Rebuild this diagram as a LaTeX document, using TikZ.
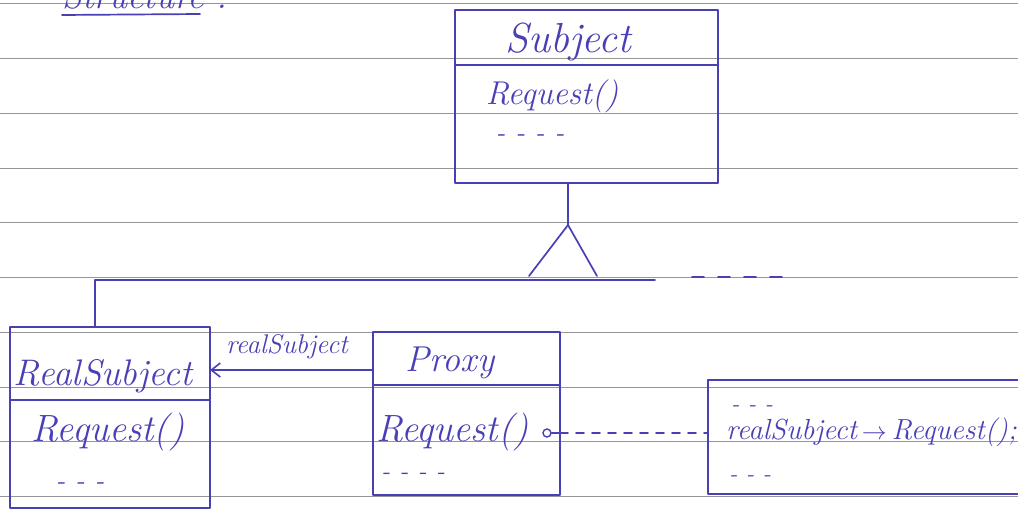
\documentclass[tikz,border=0pt]{standalone}
\usetikzlibrary{arrows.meta,calc}
\definecolor{ink}{RGB}{74,64,182}
\definecolor{paperrule}{RGB}{150,150,150}
\begin{document}
\begin{tikzpicture}[x=1pt,y=-1pt,
  pen/.style={draw=ink,line width=1.7pt,line cap=round,line join=round},
  classbox/.style={pen,rectangle,inner sep=0pt,outer sep=0pt},
  lbl/.style={text=ink,font=\fontsize{#1}{#1}\selectfont\itshape,inner sep=0pt},
  lbl/.default=36,
  ruling/.style={draw=paperrule,line width=0.8pt},
  assoc/.style={pen,-{Straight Barb[length=9pt,width=14pt,line width=1.6pt]}}]
\useasboundingbox (0,0) rectangle (1018,511);
\clip (0,0) rectangle (1018,511);
\fill[white] (0,0) rectangle (1018,511);

% ruled paper
\foreach \yy in {3,58,113,168,222,277,332,387,441,496}
  \draw[ruling] (0,\yy) -- (1018,\yy);

% heading, cut by the top edge
\node[lbl=36,anchor=base west] (heading) at (62,9) {Structure :};
\draw[pen] (heading.south west |- 0,15) -- (200,14);

% Subject
\node[classbox,minimum width=263pt,minimum height=173pt] (subject) at (586.5,96.5) {};
\draw[pen] (subject.west |- 0,65) -- (subject.east |- 0,65);
\node[lbl=42] (subjname) at (568,42) {Subject};
\node[lbl=33] (subjop) at (552,96) {Request()};
\node[lbl=28] (subjmore) at (530,138) {- - - -};

% RealSubject
\node[classbox,minimum width=200pt,minimum height=181pt] (realsub) at (110,417.5) {};
\draw[pen] (realsub.west |- 0,400) -- (realsub.east |- 0,400);
\node[lbl=37] (realname) at (103,376) {RealSubject};
\node[lbl=38] (realop) at (108,432) {Request()};
\node[lbl=28] (realmore) at (80,486) {- - -};

% Proxy
\node[classbox,minimum width=187pt,minimum height=163pt] (proxy) at (466.5,413.5) {};
\draw[pen] (proxy.west |- 0,385) -- (proxy.east |- 0,385);
\node[lbl=36] (proxyname) at (450,363) {Proxy};
\node[lbl=38,anchor=west] (proxyop) at (376,432) {Request()};
\node[lbl=26] (proxymore) at (413,476) {- - - -};
\node[draw=ink,line width=1.4pt,circle,minimum size=8pt,inner sep=0pt] (opdot) at (547,433) {};

% implementation note
\node[classbox,minimum width=322pt,minimum height=114pt] (note) at (869,437) {};
\node[lbl=24] (notetop) at (752,409) {- - -};
\node[lbl=29,anchor=west] (notecode) at (726,432) {realSubject\,$\rightarrow$\,Request();};
\node[lbl=24] (notebot) at (750,479) {- - -};

% generalisation
\coordinate (stemtop) at (subject.south -| 568,0);
\coordinate (apex) at (568,225);
\coordinate (triL) at (529,276);
\coordinate (triR) at (597,276);
\coordinate (busL) at (95,280);
\coordinate (busR) at (655,280);
\coordinate (moreL) at (692,277);
\coordinate (moreR) at (788,277);
\draw[pen] (stemtop) -- (apex);
\draw[pen] (triL) -- (apex) -- (triR);
\draw[pen] (busL) -- (busR);
\draw[pen,dash pattern=on 12pt off 14pt] (moreL) -- (moreR);
\draw[pen] (busL) -- (realsub.north -| busL);

% association Proxy -> RealSubject
\draw[assoc] (proxy.west |- 0,370) -- (realsub.east |- 0,370);
\node[lbl=27] (assoclbl) at (287,347) {realSubject};

% operation comment link
\draw[pen] (opdot.east) -- (proxy.east |- opdot.east);
\draw[pen,dash pattern=on 8pt off 8pt] (proxy.east |- opdot.east) -- (note.west |- opdot.east);
\end{tikzpicture}
\end{document}
